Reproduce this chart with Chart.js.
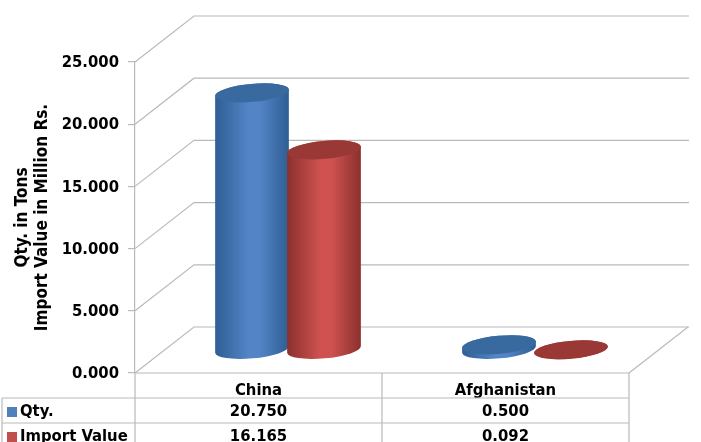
<!DOCTYPE html>
<html>
<head>
<meta charset="utf-8">
<title>Imports</title>
<script src="https://cdn.jsdelivr.net/npm/chart.js@4"></script>
<style>
    html, body { margin: 0; padding: 0; background: #fff; }
    #wrap { width: 701px; height: 442px; }
</style>
</head>
<body>
<div id="wrap"><canvas id="grafico" width="701" height="442"></canvas></div>
<script>
const categories = ["China", "Afghanistan"];
const seriesNames = ["Qty.", "Import Value"];
const qtyValues = [20.75, 0.5];
const importValues = [16.165, 0.092];
const yTicks = [0, 5, 10, 15, 20, 25];

const FONT = "'DejaVu Sans Condensed', 'DejaVu Sans', sans-serif";
const LINE = "#bababa";
// depth of the fake 3d box
const DEPTH_X = 59, DEPTH_Y = 46;

const colors = [
    { edge: "#2f5e94", mid: "#5384c6", top: "#386a9f", key: "#4f81bd" },
    { edge: "#8a302e", mid: "#cf5250", top: "#993835", key: "#c0504d" }
];

const box3d = {
    id: "box3d",
    beforeDatasetsDraw(chart) {
        const c = chart.ctx, y = chart.scales.y, area = chart.chartArea;
        c.save();
        c.strokeStyle = LINE;
        c.lineWidth = 1.2;
        c.font = "bold 16.5px " + FONT;
        c.textAlign = "right";
        c.textBaseline = "middle";
        c.fillStyle = "#000";
        yTicks.forEach(function (t) {
            const py = y.getPixelForValue(t);
            c.beginPath();
            c.moveTo(area.left, py);
            c.lineTo(area.left + DEPTH_X, py - DEPTH_Y);
            c.lineTo(area.right + DEPTH_X + 1, py - DEPTH_Y);
            c.stroke();
            c.fillText(t.toFixed(3), area.left - 16, py + 1);
        });
        // right edge of the floor
        c.beginPath();
        c.moveTo(area.right, area.bottom);
        c.lineTo(area.right + DEPTH_X, area.bottom - DEPTH_Y);
        c.stroke();
        c.restore();
    },
    afterDatasetsDraw(chart) {
        const c = chart.ctx;
        chart.data.datasets.forEach(function (ds, i) {
            const col = colors[i];
            chart.getDatasetMeta(i).data.forEach(function (bar) {
                const rx = bar.width / 2 + 1;
                const ry = 9, rot = -0.09;
                const cx = bar.x + DEPTH_X / 2;
                const yBase = bar.base - DEPTH_Y / 2;
                const yTop = bar.y - DEPTH_Y / 2 + 1;

                const g = c.createLinearGradient(cx - rx, 0, cx + rx, 0);
                g.addColorStop(0, col.edge);
                g.addColorStop(0.45, col.mid);
                g.addColorStop(0.6, col.mid);
                g.addColorStop(1, col.edge);

                c.save();
                c.fillStyle = g;
                c.beginPath();
                c.ellipse(cx, yBase, rx, ry, rot, 0, Math.PI);
                c.ellipse(cx, yTop, rx, ry, rot, Math.PI, Math.PI * 2);
                c.closePath();
                c.fill();
                c.fillStyle = col.top;
                c.beginPath();
                c.ellipse(cx, yTop, rx, ry, rot, 0, Math.PI * 2);
                c.fill();
                c.restore();
            });
        });
    },
    afterDraw(chart) {
        // data table under the plot
        const c = chart.ctx, area = chart.chartArea;
        const colX = [area.left, (area.left + area.right) / 2, area.right];
        const rows = [398, 423];
        c.save();
        c.strokeStyle = LINE;
        c.lineWidth = 1.2;
        c.beginPath();
        c.moveTo(area.left, area.bottom); c.lineTo(area.right, area.bottom);
        c.moveTo(2, rows[0]); c.lineTo(area.right, rows[0]);
        c.moveTo(2, rows[1]); c.lineTo(area.right, rows[1]);
        c.moveTo(2, rows[0]); c.lineTo(2, 442);
        colX.forEach(function (x) { c.moveTo(x, area.bottom); c.lineTo(x, 442); });
        c.stroke();

        c.font = "bold 16.5px " + FONT;
        c.textBaseline = "middle";
        chart.data.datasets.forEach(function (ds, i) {
            const mid = rows[i] + 14;
            c.fillStyle = colors[i].key;
            c.fillRect(7, mid - 5, 10, 10);
            c.fillStyle = "#000";
            c.textAlign = "left";
            c.fillText(seriesNames[i], 20, mid);
            c.textAlign = "center";
            ds.data.forEach(function (v, k) {
                c.fillText(v.toFixed(3), (colX[k] + colX[k + 1]) / 2, mid);
            });
        });
        c.restore();
    }
};

new Chart(document.getElementById("grafico"), {
    type: "bar",
    data: {
        labels: categories,
        datasets: [
            { label: seriesNames[0], data: qtyValues, backgroundColor: "transparent" },
            { label: seriesNames[1], data: importValues, backgroundColor: "transparent" }
        ]
    },
    options: {
        responsive: false,
        animation: false,
        layout: { padding: { top: 62, right: 72, bottom: 0, left: 12 } },
        plugins: { legend: { display: false }, tooltip: { enabled: false } },
        datasets: { bar: { barPercentage: 1, categoryPercentage: 0.583 } },
        scales: {
            x: {
                grid: { display: false },
                border: { display: false },
                ticks: {
                    color: "#000",
                    padding: 0,
                    font: { family: FONT, size: 16.5, weight: "bold" }
                },
                afterFit(scale) { scale.height = 69; }
            },
            y: {
                min: 0,
                max: 25,
                grid: { drawOnChartArea: false, color: LINE, tickLength: 7, lineWidth: 1.2 },
                border: { color: LINE, width: 1.2 },
                // labels are drawn in the plugin, one pixel under the tick
                ticks: { stepSize: 5, display: false },
                title: {
                    display: true,
                    text: ["Qty. in Tons", "Import Value in Million Rs."],
                    color: "#000",
                    font: { family: FONT, size: 17, weight: "bold" },
                    padding: 0
                },
                afterFit(scale) { scale.width = 123; }
            }
        }
    },
    plugins: [box3d]
});
</script>
</body>
</html>
